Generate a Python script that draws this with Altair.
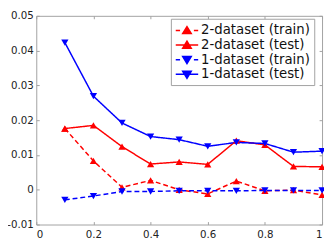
import altair as alt
import pandas as pd

x_vals = [0.1, 0.2, 0.3, 0.4, 0.5, 0.6, 0.7, 0.8, 0.9, 1.0]
two_train = [0.0176, 0.0083, 0.0007, 0.0027, 0.0000, -0.0012, 0.0025, -0.0003, -0.0001, -0.0015]
two_test = [0.0176, 0.0185, 0.0124, 0.0074, 0.0080, 0.0073, 0.0141, 0.0129, 0.0067, 0.0066]
one_train = [-0.0029, -0.0018, -0.0005, -0.0005, -0.0003, -0.0003, -0.0003, -0.0002, -0.0002, -0.0002]
one_test = [0.0423, 0.0269, 0.0192, 0.0153, 0.0144, 0.0125, 0.0136, 0.0133, 0.0108, 0.0111]

series_names = ["2-dataset (train)", "2-dataset (test)", "1-dataset (train)", "1-dataset (test)"]
series_data = [two_train, two_test, one_train, one_test]
series_dataset = ["2", "2", "1", "1"]
series_kind = ["train", "test", "train", "test"]
series_colors = ["#ff0000", "#ff0000", "#0000ff", "#0000ff"]
dataset_names = ["2", "1"]
dataset_colors = ["#ff0000", "#0000ff"]
x_ticks = [0, 0.2, 0.4, 0.6, 0.8, 1.0]
y_ticks = [-0.01, 0, 0.01, 0.02, 0.03, 0.04, 0.05]

# legend glyphs (line, solid or dashed, with a triangle marker), built in pixels
SYM_SIZE = 196
UNIT = (SYM_SIZE ** 0.5) / 2.0
L, R, C = -7.0, 16.0, 4.5

def u(v):
    return round(v / UNIT, 3)

def glyph(dashed, up):
    if dashed:
        line = f"M{u(L)},0H{u(L + 4.4)}M{u(R - 4.4)},0H{u(R)}"
    else:
        line = f"M{u(L)},0H{u(R)}"
    s = -1 if up else 1
    tri = (f"M{u(C)},{u(s * 4.0)}L{u(C + 4.4)},{u(-s * 3.2)}"
           f"L{u(C - 4.4)},{u(-s * 3.2)}Z")
    return line + tri

legend_paths = [glyph(True, True), glyph(False, True), glyph(True, False), glyph(False, False)]

rows = []
for name, vals, ds, kind in zip(series_names, series_data, series_dataset, series_kind):
    for xv, yv in zip(x_vals, vals):
        rows.append({"x": xv, "value": yv, "series": name, "dataset": ds, "kind": kind})
df = pd.DataFrame(rows)

GRAY = "#a0a0a0"
FONT = "DejaVu Sans"
xs = alt.Scale(domain=[0, 1], nice=False, zero=False)
ys = alt.Scale(domain=[-0.01, 0.05], nice=False, zero=False)
cscale = alt.Scale(domain=series_names, range=series_colors)
dscale = alt.Scale(domain=dataset_names, range=dataset_colors)

y_label_expr = "datum.value < 0 ? '-' + format(-datum.value, '.2~f') : format(datum.value, '.2~f')"

def tick_axis(orient, values):
    return alt.Axis(orient=orient, values=values, labels=False, title=None, grid=False,
                    domain=False, ticks=True, tickSize=3, offset=-3, tickColor=GRAY, tickWidth=1)

base = alt.Chart(df)

lines = base.mark_line(strokeWidth=1.5).encode(
    x=alt.X("x:Q", scale=xs, axis=alt.Axis(orient="bottom", values=x_ticks, labelExpr="format(datum.value, '~g')",
                                           title=None, grid=False, domain=False, ticks=False, labelPadding=5,
                                           labelFont=FONT, labelFontSize=10.5, labelColor="#222")),
    y=alt.Y("value:Q", scale=ys, axis=alt.Axis(orient="left", values=y_ticks, labelExpr=y_label_expr,
                                               title=None, grid=False, domain=False, ticks=False, labelPadding=3,
                                               labelFont=FONT, labelFontSize=10.5, labelColor="#222")),
    color=alt.Color("dataset:N", scale=dscale, legend=None),
    strokeDash=alt.StrokeDash("kind:N", scale=alt.Scale(domain=["train", "test"], range=[[5, 3], [1, 0]]), legend=None),
    detail="series:N",
)

pts2 = base.transform_filter("datum.dataset == '2'").mark_point(filled=True, shape="triangle-up", size=55, opacity=1).encode(
    x=alt.X("x:Q", scale=xs, axis=tick_axis("bottom", x_ticks)),
    y=alt.Y("value:Q", scale=ys, axis=tick_axis("left", y_ticks)),
    color=alt.Color("dataset:N", scale=dscale, legend=None),
)

pts1 = base.transform_filter("datum.dataset == '1'").mark_point(filled=True, shape="triangle-down", size=55, opacity=1).encode(
    x=alt.X("x:Q", scale=xs, axis=tick_axis("top", x_ticks)),
    y=alt.Y("value:Q", scale=ys, axis=tick_axis("right", y_ticks)),
    color=alt.Color("dataset:N", scale=dscale, legend=None),
)

leg = alt.Legend(title=None, orient="none", legendX=138, legendY=3, symbolSize=SYM_SIZE, symbolStrokeWidth=1.5,
                 labelFont=FONT, labelFontSize=13.6, labelColor="#111", labelOffset=11, rowPadding=0,
                 padding=4, strokeColor=GRAY, fillColor="white", symbolOpacity=1)

legend_layer = base.mark_point(filled=True, strokeWidth=0, size=0).encode(
    x=alt.X("x:Q", scale=xs, axis=None),
    y=alt.Y("value:Q", scale=ys, axis=None),
    fill=alt.Fill("series:N", scale=cscale, legend=leg),
    stroke=alt.Stroke("series:N", scale=cscale, legend=leg),
    shape=alt.Shape("series:N", scale=alt.Scale(domain=series_names, range=legend_paths), legend=leg),
)

chart = alt.layer(lines, pts2, pts1, legend_layer).resolve_axis(
    x="independent", y="independent"
).properties(
    width=293, height=214,
    autosize=alt.AutoSizeParams(type="none"),
    padding={"left": 29, "top": 5, "right": 2, "bottom": 20},
).configure_view(stroke=GRAY, strokeWidth=1)

chart.save("out.html", embed_options={"renderer": "svg", "actions": False})
